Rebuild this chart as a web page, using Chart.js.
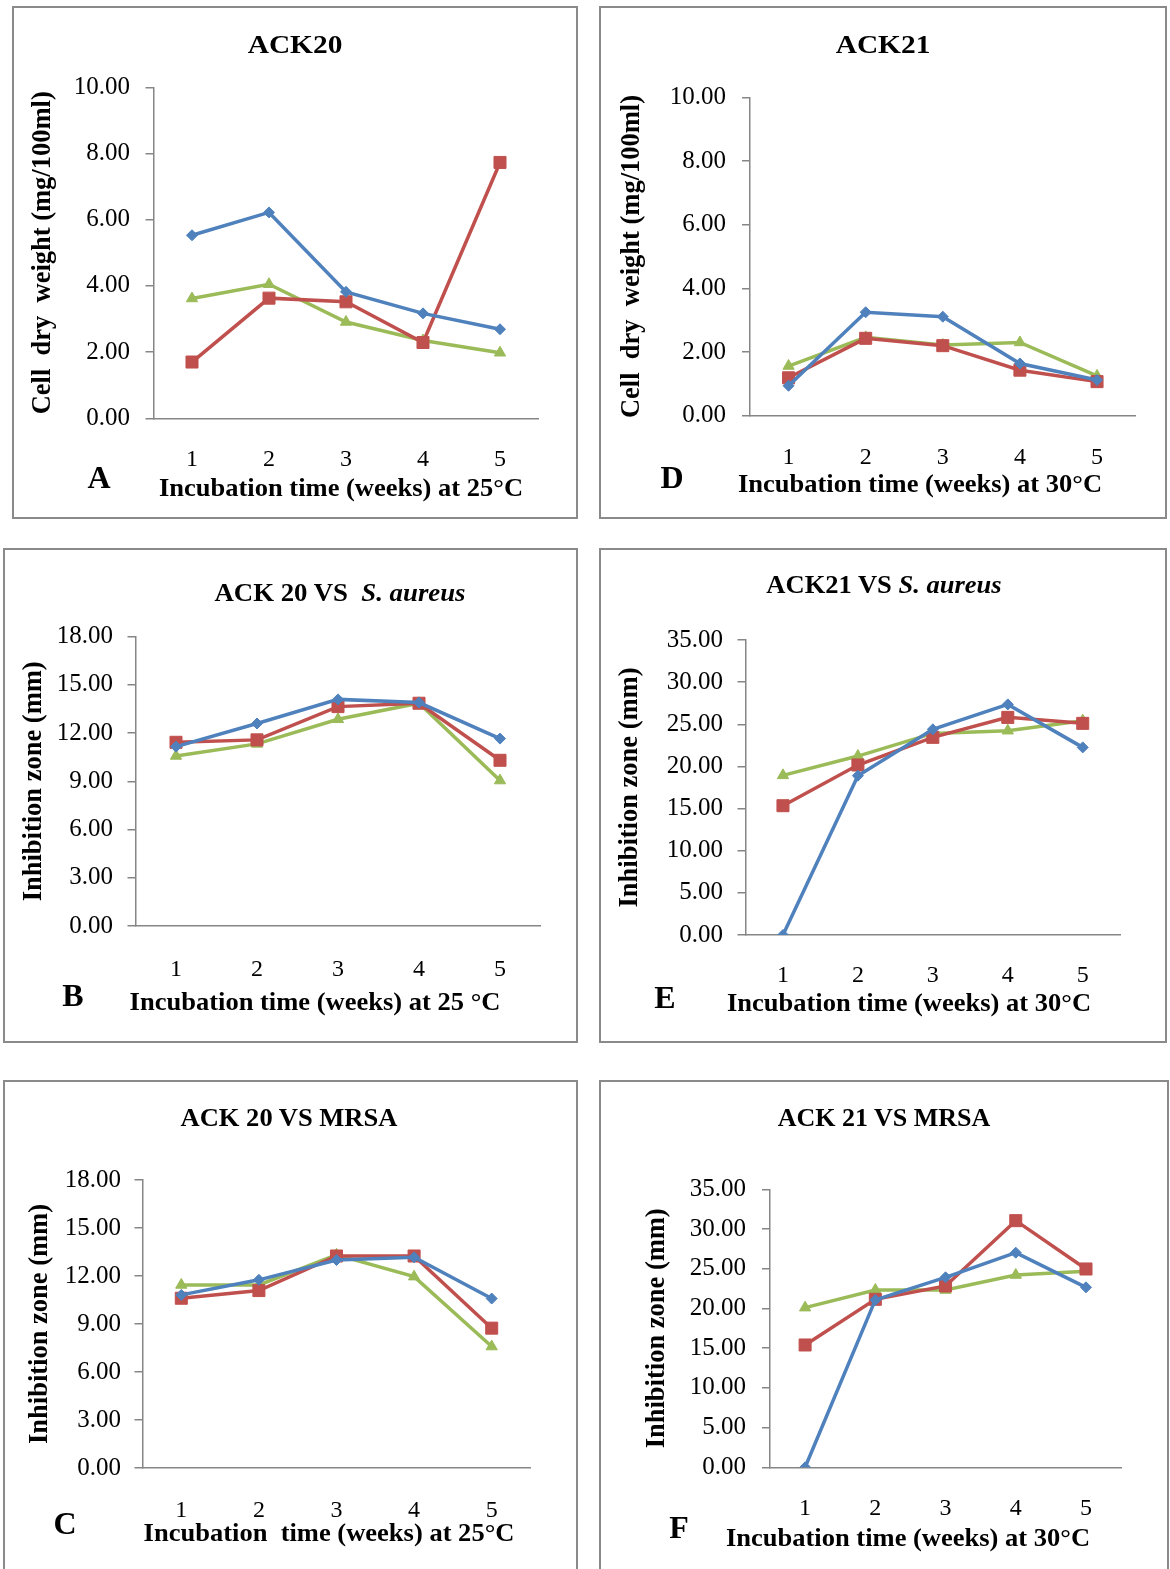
<!DOCTYPE html>
<html><head><meta charset="utf-8">
<script src="https://cdn.jsdelivr.net/npm/chart.js@4.4.0/dist/chart.umd.min.js"></script>
<style>
html,body{margin:0;padding:0;background:#fff;}
body{width:1170px;height:1569px;position:relative;overflow:hidden;font-family:'Liberation Serif','Times New Roman',serif;}
.panel{position:absolute;border:2px solid #8a8a8a;box-sizing:border-box;background:#fff;}
.panel canvas{position:absolute;left:0;top:0;}
.txt{position:absolute;font-weight:bold;white-space:pre;text-align:center;color:#000;width:600px;transform-origin:50% 50%;}
.ttl{font-size:26px;line-height:30px;height:30px;}
.xt{font-size:26px;line-height:30px;height:30px;}
.let{position:absolute;font-weight:bold;font-size:32px;line-height:36px;height:36px;width:50px;text-align:center;color:#000;}
</style></head><body>
<script>
// ---------- data ----------
const weeks = ['1', '2', '3', '4', '5'];

// A: ACK20 cell dry weight (mg/100ml), 25°C
const dry20Blue  = [5.53, 6.22, 3.82, 3.17, 2.69];
const dry20Red   = [1.70, 3.63, 3.52, 2.29, 7.73];
const dry20Green = [3.62, 4.05, 2.91, 2.35, 1.98];

// D: ACK21 cell dry weight (mg/100ml), 30°C
const dry21Blue  = [0.94, 3.25, 3.11, 1.64, 1.12];
const dry21Red   = [1.19, 2.43, 2.20, 1.43, 1.07];
const dry21Green = [1.56, 2.46, 2.22, 2.30, 1.25];

// B: ACK20 vs S. aureus inhibition zone (mm)
const sa20Blue  = [11.16, 12.60, 14.10, 13.90, 11.66];
const sa20Red   = [11.43, 11.58, 13.65, 13.86, 10.31];
const sa20Green = [10.58, 11.33, 12.86, 13.86, 9.05];

// E: ACK21 vs S. aureus inhibition zone (mm)
const sa21Blue  = [0.00, 18.90, 24.40, 27.36, 22.26];
const sa21Red   = [15.34, 20.17, 23.45, 25.82, 25.11];
const sa21Green = [18.94, 21.23, 23.92, 24.24, 25.43];

// C: ACK20 vs MRSA inhibition zone (mm)
const mr20Blue  = [10.82, 11.76, 13.00, 13.17, 10.59];
const mr20Red   = [10.61, 11.09, 13.25, 13.25, 8.74];
const mr20Green = [11.44, 11.44, 13.32, 11.96, 7.59];

// F: ACK21 vs MRSA inhibition zone (mm)
const mr21Blue  = [0.00, 21.07, 23.92, 27.02, 22.66];
const mr21Red   = [15.40, 21.15, 22.83, 31.05, 24.97];
const mr21Green = [20.10, 22.32, 22.32, 24.21, 24.67];

// axis ranges / tick steps
const dryMax = 10, dryStep = 2;
const sa20Max = 18, sa20Step = 3;
const sa21Max = 35, sa21Step = 5;

const titles = ['ACK20', 'ACK21', 'ACK 20 VS  <i>S. aureus</i>', 'ACK21 VS <i>S. aureus</i>', 'ACK 20 VS MRSA', 'ACK 21 VS MRSA'];
const letters = ['A', 'D', 'B', 'E', 'C', 'F'];
const yTitles = ['Cell  dry  weight (mg/100ml)', 'Cell  dry  weight (mg/100ml)', 'Inhibition zone (mm)', 'Inhibition zone (mm)', 'Inhibition zone (mm)', 'Inhibition zone (mm)'];
const xTitles = ['Incubation time (weeks) at 25°C', 'Incubation time (weeks) at 30°C', 'Incubation time (weeks) at 25 °C', 'Incubation time (weeks) at 30°C', 'Incubation  time (weeks) at 25°C', 'Incubation time (weeks) at 30°C'];

// ---------- styles ----------
const FAMILY = "'Liberation Serif','Times New Roman',serif";
const BLUE = '#4F81BD', RED = '#C0504D', GREEN = '#9BBB59', AXIS = '#868686';
const seriesStyle = [
  {color: BLUE, pointStyle: 'rectRot', radius: 5.5},
  {color: RED, pointStyle: 'rect', radius: 8.5},
  {color: GREEN, pointStyle: 'triangle', radius: 6.5}
];

// layout (page px): box [l,t,r,b], area [l,r,t,b]
const panels = [
  {box:[12,6,578,519], area:[153.5,538.5,87.3,418.3], yTickRight:130, xTickY:460, xTitleC:[341,488], yTitleX:43, titleC:[295,45], titleSX:1.13, letC:[99,477],
   series:[dry20Blue, dry20Red, dry20Green], yMax:dryMax, yStep:dryStep},
  {box:[599,6,1167,519], area:[750,1135.6,97.3,415.7], yTickRight:726, xTickY:458, xTitleC:[919.5,484], yTitleX:632, titleC:[883,45], titleSX:1.13, letC:[672,477],
   series:[dry21Blue, dry21Red, dry21Green], yMax:dryMax, yStep:dryStep},
  {box:[3,548,578,1043], area:[135.5,540.5,636.7,926], yTickRight:113, xTickY:970, xTitleC:[315,1002], yTitleX:34, titleC:[340,593], titleSX:1.03, letC:[73,995],
   series:[sa20Blue, sa20Red, sa20Green], yMax:sa20Max, yStep:sa20Step},
  {box:[599,548,1167,1043], area:[745.5,1120.2,640,935], yTickRight:723, xTickY:976, xTitleC:[909,1003], yTitleX:630, titleC:[884,585], titleSX:1.02, letC:[665,997],
   series:[sa21Blue, sa21Red, sa21Green], yMax:sa21Max, yStep:sa21Step},
  {box:[3,1080,578,1578], area:[142.5,530.5,1180,1468], yTickRight:121, xTickY:1511, xTitleC:[328.5,1533], yTitleX:40, titleC:[289,1118], titleSX:1.02, letC:[65,1523],
   series:[mr20Blue, mr20Red, mr20Green], yMax:sa20Max, yStep:sa20Step},
  {box:[599,1080,1169,1578], area:[770,1121.1,1189.3,1467.3], yTickRight:746, xTickY:1509, xTitleC:[907.5,1538], yTitleX:657, titleC:[884,1118], titleSX:1.0, letC:[679,1527],
   series:[mr21Blue, mr21Red, mr21Green], yMax:sa21Max, yStep:sa21Step}
];

function addText(cls, html, cx, cy, sx) {
  const d = document.createElement('div');
  d.className = 'txt ' + cls;
  d.innerHTML = html;
  d.style.left = (cx - 300) + 'px';
  d.style.top = (cy - 15) + 'px';
  if (sx && sx !== 1) d.style.transform = 'scaleX(' + sx + ')';
  document.body.appendChild(d);
}

function build(p, idx) {
  const div = document.createElement('div');
  div.className = 'panel';
  div.style.left = p.box[0] + 'px';
  div.style.top = p.box[1] + 'px';
  div.style.width = (p.box[2] - p.box[0]) + 'px';
  div.style.height = (p.box[3] - p.box[1]) + 'px';
  document.body.appendChild(div);
  const ox = p.box[0] + 2, oy = p.box[1] + 2;
  const W = p.box[2] - p.box[0] - 4, H = p.box[3] - p.box[1] - 4;
  const cv = document.createElement('canvas');
  cv.width = W; cv.height = H;
  cv.style.width = W + 'px'; cv.style.height = H + 'px';
  div.appendChild(cv);

  const aL = p.area[0] - ox, aR = p.area[1] - ox, aT = p.area[2] - oy, aB = p.area[3] - oy;
  const tl = 8, yTickSize = 25, xTickSize = 24, axTitleSize = 26.5;

  new Chart(cv, {
    type: 'line',
    data: {
      labels: weeks,
      datasets: p.series.map((s, i) => ({
        data: s,
        borderColor: seriesStyle[i].color,
        backgroundColor: seriesStyle[i].color,
        pointBackgroundColor: seriesStyle[i].color,
        pointBorderColor: seriesStyle[i].color,
        pointStyle: seriesStyle[i].pointStyle,
        pointRadius: seriesStyle[i].radius,
        pointBorderWidth: 1,
        borderWidth: 3.5,
        tension: 0,
        fill: false
      }))
    },
    options: {
      responsive: false, animation: false, devicePixelRatio: 1,
      events: [],
      layout: {padding: {left: 0, top: aT, right: W - aR, bottom: 0}},
      plugins: {legend: {display: false}, tooltip: {enabled: false}, title: {display: false}},
      scales: {
        x: {
          offset: true,
          grid: {display: false, drawTicks: false},
          border: {display: true, color: AXIS, width: 1.5},
          ticks: {color: '#000', autoSkip: false, maxRotation: 0,
                  font: {family: FAMILY, size: xTickSize, lineHeight: 1},
                  padding: p.xTickY - p.area[3] - xTickSize / 2},
          title: {display: false},
          afterFit: s => { s.height = H - aB; }
        },
        y: {
          min: 0, max: p.yMax,
          grid: {drawOnChartArea: false, drawTicks: true, tickLength: tl, color: AXIS, lineWidth: 1.5},
          border: {display: true, color: AXIS, width: 1.5},
          ticks: {stepSize: p.yStep, color: '#000', callback: v => Number(v).toFixed(2),
                  font: {family: FAMILY, size: yTickSize, lineHeight: 1},
                  padding: p.area[0] - p.yTickRight - tl},
          title: {display: true, text: yTitles[idx], color: '#000',
                  font: {family: FAMILY, size: axTitleSize, weight: 'bold', lineHeight: 1},
                  padding: {top: p.yTitleX - ox - axTitleSize / 2, bottom: 0}},
          afterFit: s => { s.width = aL; }
        }
      }
    }
  });

  addText('ttl', titles[idx], p.titleC[0], p.titleC[1], p.titleSX);
  addText('xt', xTitles[idx], p.xTitleC[0], p.xTitleC[1], 1.02);

  const l = document.createElement('div');
  l.className = 'let';
  l.textContent = letters[idx];
  l.style.left = (p.letC[0] - 25) + 'px';
  l.style.top = (p.letC[1] - 18) + 'px';
  document.body.appendChild(l);
}

panels.forEach(build);
</script>
</body></html>
